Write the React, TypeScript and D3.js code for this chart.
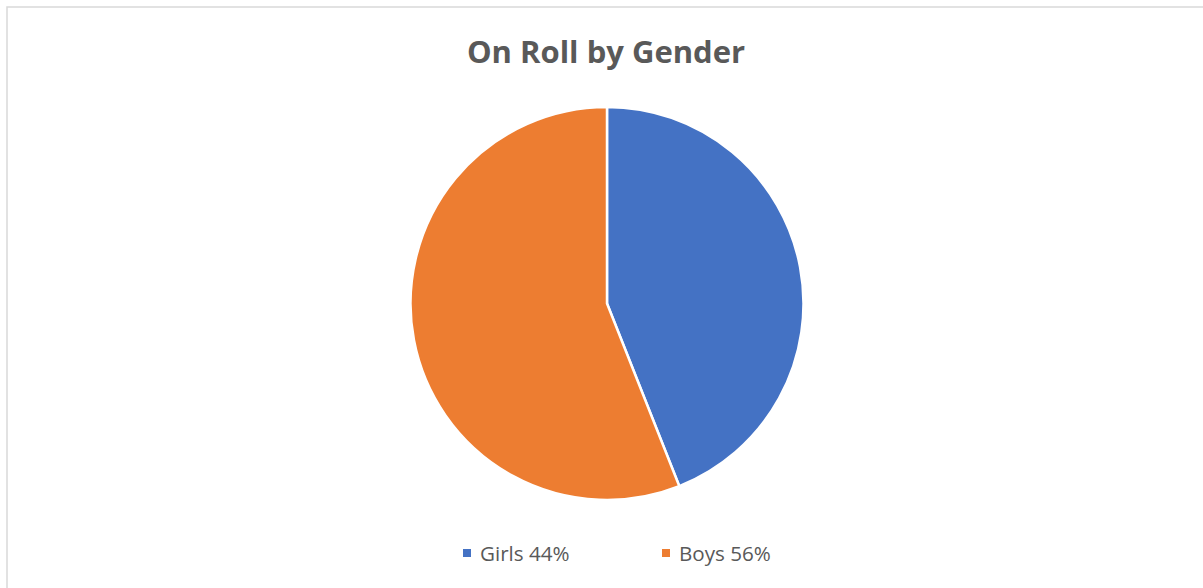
import React from "react";
import * as d3 from "d3";

const categories = ["Girls", "Boys"];
const values = [44, 56];
const legendLabels = ["Girls 44%", "Boys 56%"];
const colors = ["#4472C4", "#ED7D31"];
const title = "On Roll by Gender";

export default function App() {
  const W = 1203, H = 588;
  const cx = 607, cy = 303.5, r = 196.5;
  const pie = d3.pie<number>().sort(null).value((d) => d);
  const arcs = pie(values);
  const arc = d3.arc<d3.PieArcDatum<number>>().innerRadius(0).outerRadius(r);
  const legendX = [463, 662];
  return (
    <svg width={W} height={H} style={{ position: "absolute", left: 0, top: 0, background: "#fff" }}
      fontFamily="'Open Sans', 'Liberation Sans', sans-serif">
      <rect x={7} y={7} width={W + 10} height={H + 10} fill="#fff" stroke="#d9d9d9" strokeWidth={1.5} />
      <text x={606} y={63} textAnchor="middle" fontSize={31} fontWeight="bold" fill="#595959">{title}</text>
      <g transform={`translate(${cx},${cy})`}>
        {arcs.map((a, i) => (
          <path key={categories[i]} d={arc(a) || ""} fill={colors[i]} stroke="#fff" strokeWidth={2.5} />
        ))}
      </g>
      {legendLabels.map((l, i) => (
        <g key={l}>
          <rect x={legendX[i]} y={549} width={8} height={8} fill={colors[i]} />
          <text x={legendX[i] + 17} y={561} fontSize={20.6} fill="#595959">{l}</text>
        </g>
      ))}
    </svg>
  );
}
